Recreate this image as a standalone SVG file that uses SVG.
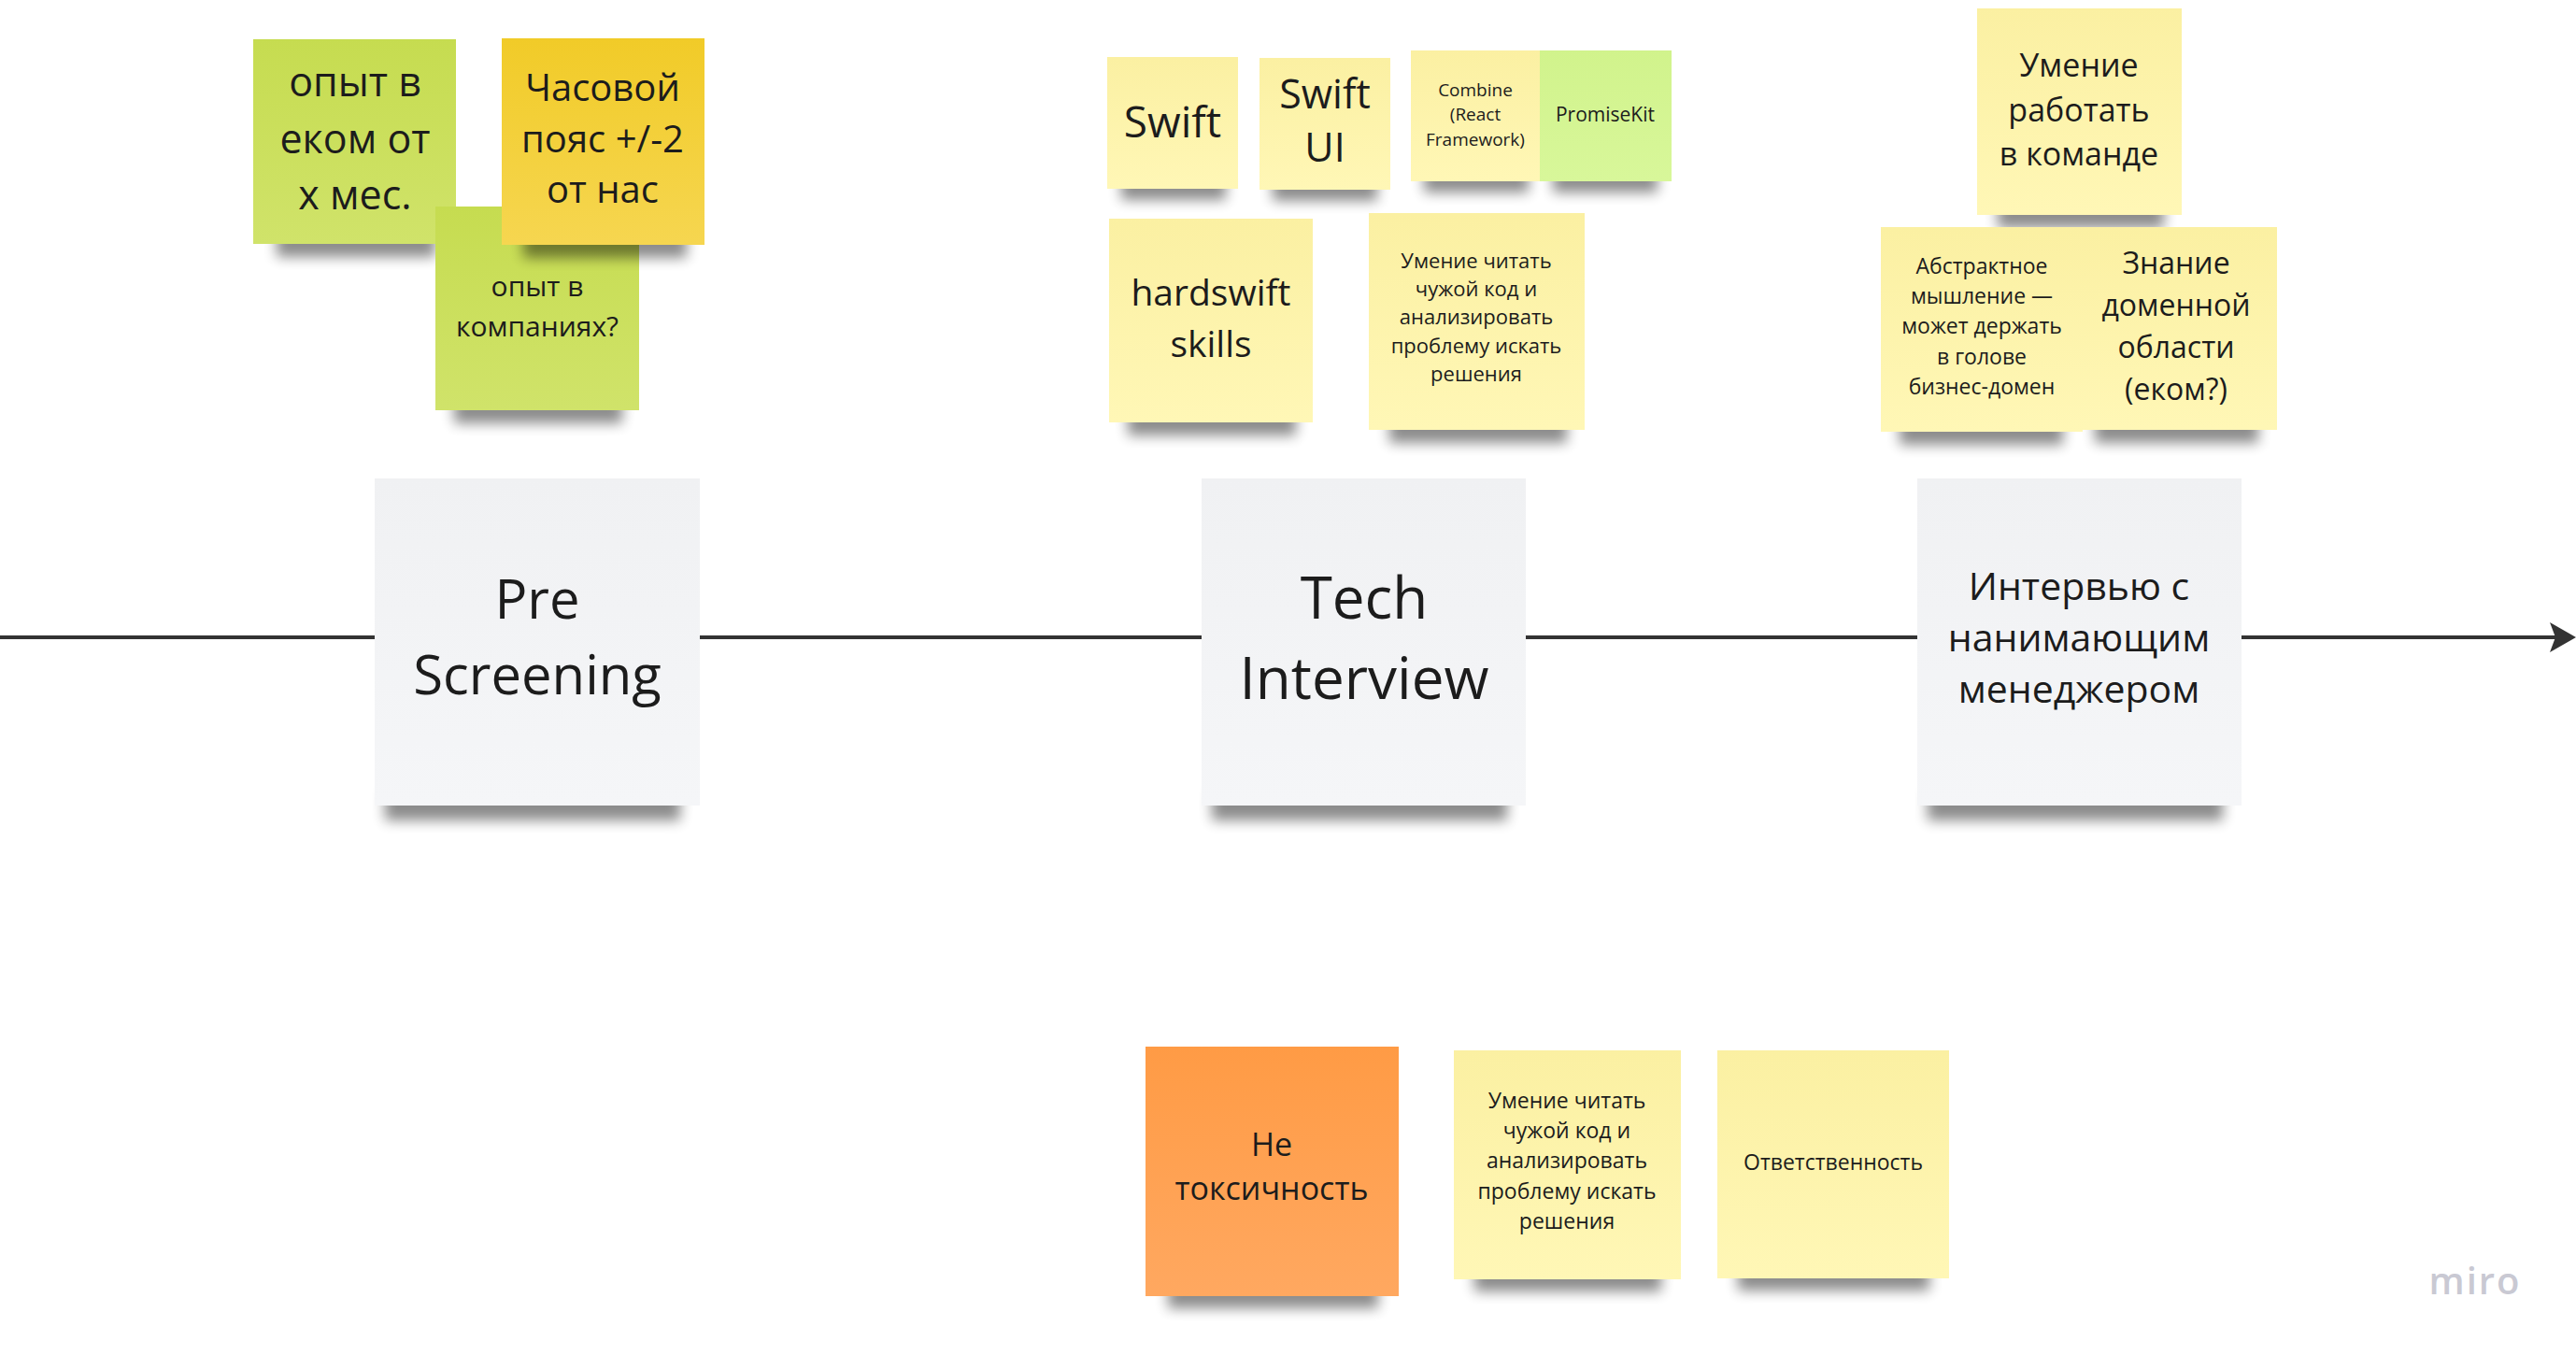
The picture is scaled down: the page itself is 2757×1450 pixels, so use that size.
<svg xmlns="http://www.w3.org/2000/svg" width="2757" height="1450" viewBox="0 0 2757 1450">
<style>
  text { font-family: "Open Sans", "Noto Sans", "DejaVu Sans", sans-serif; fill: #1c1c1c; text-anchor: middle; }
  .lime { fill: url(#gLime); }
  .gold { fill: url(#gGold); }
  .yel { fill: url(#gYel); }
  .grn { fill: url(#gGrn); }
  .org { fill: url(#gOrg); }
  .gray { fill: url(#gGray); }
  .sh { fill: #000; opacity: 0.45; filter: url(#blur); }
  .conn { stroke: #333333; stroke-width: 4; fill: none; }
</style>
<defs>
  <filter id="blur" x="-20%" y="-100%" width="140%" height="300%">
    <feGaussianBlur stdDeviation="7"/>
  </filter>
  <linearGradient id="gLime" x1="0" y1="0" x2="0" y2="1"><stop offset="0" stop-color="#C6DC50"/><stop offset="1" stop-color="#D0E36A"/></linearGradient>
  <linearGradient id="gGold" x1="0" y1="0" x2="0" y2="1"><stop offset="0" stop-color="#F1CB28"/><stop offset="1" stop-color="#F6D650"/></linearGradient>
  <linearGradient id="gYel" x1="0" y1="0" x2="0" y2="1"><stop offset="0" stop-color="#FBF0A2"/><stop offset="1" stop-color="#FFF7B6"/></linearGradient>
  <linearGradient id="gGrn" x1="0" y1="0" x2="0" y2="1"><stop offset="0" stop-color="#D1F38C"/><stop offset="1" stop-color="#D8F79A"/></linearGradient>
  <linearGradient id="gOrg" x1="0" y1="0" x2="0" y2="1"><stop offset="0" stop-color="#FF9B45"/><stop offset="1" stop-color="#FFA860"/></linearGradient>
  <linearGradient id="gGray" x1="0" y1="0" x2="0" y2="1"><stop offset="0" stop-color="#F0F1F3"/><stop offset="1" stop-color="#F5F6F8"/></linearGradient>
  <marker id="arrow" markerUnits="userSpaceOnUse" markerWidth="28" markerHeight="32" viewBox="0 0 28 32" refX="6" refY="16" orient="auto">
    <path d="M0,0 L28,16 L0,32 L6,16 Z" fill="#333333"/>
  </marker>
</defs>
<rect width="2757" height="1450" fill="#FFFFFF"/>

<g id="connectors">
  <path class="conn" d="M0,682 L2735,682" marker-end="url(#arrow)"/>
</g>

<!-- Pre Screening cluster -->
<g id="node-exp-ecom">
  <rect class="sh" x="296" y="247" width="170" height="28"/>
  <rect class="lime" x="271" y="42" width="217" height="219"/>
  <text font-size="43"><tspan x="380" y="103">опыт в</tspan><tspan x="380" y="164">еком от</tspan><tspan x="380" y="224">х мес.</tspan></text>
</g>
<g id="node-exp-companies">
  <rect class="sh" x="486" y="425" width="180" height="28"/>
  <rect class="lime" x="466" y="221" width="218" height="218"/>
  <text font-size="30"><tspan x="575" y="317">опыт в</tspan><tspan x="575" y="360">компаниях?</tspan></text>
</g>
<g id="node-timezone">
  <rect class="sh" x="560" y="248" width="175" height="28"/>
  <rect class="gold" x="537" y="41" width="217" height="221"/>
  <text font-size="40"><tspan x="645" y="108">Часовой</tspan><tspan x="645" y="163">пояс +/-2</tspan><tspan x="645" y="217">от нас</tspan></text>
</g>

<!-- Tech Interview cluster -->
<g id="node-swift">
  <rect class="sh" x="1200" y="188" width="112" height="26"/>
  <rect class="yel" x="1185" y="61" width="140" height="141"/>
  <text font-size="46" x="1255" y="147">Swift</text>
</g>
<g id="node-swiftui">
  <rect class="sh" x="1362" y="189" width="112" height="26"/>
  <rect class="yel" x="1348" y="62" width="140" height="141"/>
  <text font-size="43"><tspan x="1418" y="116">Swift</tspan><tspan x="1418" y="173">UI</tspan></text>
</g>
<g id="node-combine">
  <rect class="sh" x="1524" y="180" width="112" height="26"/>
  <rect class="yel" x="1510" y="54" width="138" height="140"/>
  <text font-size="19"><tspan x="1579" y="103">Combine</tspan><tspan x="1579" y="129">(React</tspan><tspan x="1579" y="156">Framework)</tspan></text>
</g>
<g id="node-promisekit">
  <rect class="sh" x="1662" y="180" width="112" height="26"/>
  <rect class="grn" x="1648" y="54" width="141" height="140"/>
  <text font-size="21" x="1718" y="130">PromiseKit</text>
</g>
<g id="node-hardswift">
  <rect class="sh" x="1207" y="438" width="180" height="28"/>
  <rect class="yel" x="1187" y="234" width="218" height="218"/>
  <text font-size="39"><tspan x="1296" y="327">hardswift</tspan><tspan x="1296" y="382">skills</tspan></text>
</g>
<g id="node-read-code-top">
  <rect class="sh" x="1487" y="446" width="190" height="28"/>
  <rect class="yel" x="1465" y="228" width="231" height="232"/>
  <text font-size="22"><tspan x="1580" y="287">Умение читать</tspan><tspan x="1580" y="317">чужой код и</tspan><tspan x="1580" y="347">анализировать</tspan><tspan x="1580" y="378">проблему искать</tspan><tspan x="1580" y="408">решения</tspan></text>
</g>

<!-- Hiring manager cluster -->
<g id="node-teamwork">
  <rect class="sh" x="2138" y="216" width="178" height="28"/>
  <rect class="yel" x="2116" y="9" width="219" height="221"/>
  <text font-size="34"><tspan x="2225" y="82">Умение</tspan><tspan x="2225" y="130">работать</tspan><tspan x="2225" y="177">в команде</tspan></text>
</g>
<g id="node-domain">
  <rect class="sh" x="2242" y="446" width="175" height="28"/>
  <rect class="yel" x="2221" y="243" width="216" height="217"/>
  <text font-size="32"><tspan x="2329" y="293">Знание</tspan><tspan x="2329" y="338">доменной</tspan><tspan x="2329" y="383">области</tspan><tspan x="2329" y="428">(еком?)</tspan></text>
</g>
<g id="node-abstract">
  <rect class="sh" x="2033" y="448" width="175" height="28"/>
  <rect class="yel" x="2013" y="243" width="216" height="219"/>
  <text font-size="23"><tspan x="2121" y="293">Абстрактное</tspan><tspan x="2121" y="325">мышление —</tspan><tspan x="2121" y="357">может держать</tspan><tspan x="2121" y="390">в голове</tspan><tspan x="2121" y="422">бизнес-домен</tspan></text>
</g>

<!-- Stage boxes -->
<g id="node-prescreening">
  <rect class="sh" x="412" y="846" width="316" height="32"/>
  <rect class="gray" x="401" y="512" width="348" height="350"/>
  <text font-size="58"><tspan x="575" y="662">Pre</tspan><tspan x="575" y="743">Screening</tspan></text>
</g>
<g id="node-techinterview">
  <rect class="sh" x="1297" y="846" width="316" height="32"/>
  <rect class="gray" x="1286" y="512" width="347" height="350"/>
  <text font-size="62"><tspan x="1460" y="662">Tech</tspan><tspan x="1460" y="748">Interview</tspan></text>
</g>
<g id="node-manager">
  <rect class="sh" x="2063" y="846" width="316" height="32"/>
  <rect class="gray" x="2052" y="512" width="347" height="350"/>
  <text font-size="41"><tspan x="2225" y="642">Интервью с</tspan><tspan x="2225" y="697">нанимающим</tspan><tspan x="2225" y="752">менеджером</tspan></text>
</g>

<!-- Bottom cluster -->
<g id="node-nontoxic">
  <rect class="sh" x="1250" y="1372" width="225" height="28"/>
  <rect class="org" x="1226" y="1120" width="271" height="267"/>
  <text font-size="34"><tspan x="1361" y="1237">Не</tspan><tspan x="1361" y="1284">токсичность</tspan></text>
</g>
<g id="node-read-code-bottom">
  <rect class="sh" x="1578" y="1354" width="200" height="28"/>
  <rect class="yel" x="1556" y="1124" width="243" height="245"/>
  <text font-size="23"><tspan x="1677" y="1186">Умение читать</tspan><tspan x="1677" y="1218">чужой код и</tspan><tspan x="1677" y="1250">анализировать</tspan><tspan x="1677" y="1283">проблему искать</tspan><tspan x="1677" y="1315">решения</tspan></text>
</g>
<g id="node-responsibility">
  <rect class="sh" x="1860" y="1353" width="205" height="28"/>
  <rect class="yel" x="1838" y="1124" width="248" height="244"/>
  <text font-size="23" x="1962" y="1252">Ответственность</text>
</g>

<text x="2649" y="1385" font-size="40" font-weight="600" letter-spacing="2" style="fill:#C9C9D3">miro</text>
</svg>
